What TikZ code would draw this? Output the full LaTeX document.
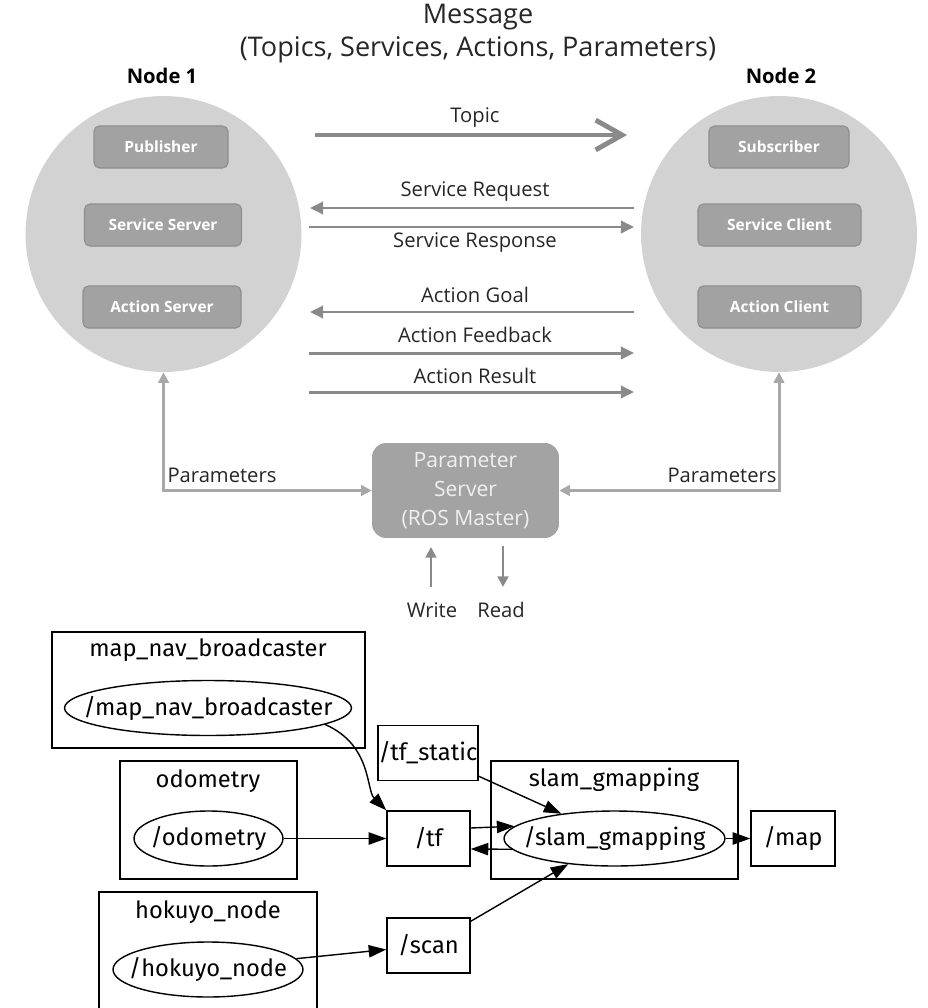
\documentclass[tikz,border=0pt]{standalone}
\usepackage{fontspec}
\setmainfont{Open Sans}
\newfontfamily\graphfont{Fira Sans}
\usepackage{xcolor}
\usepackage{tikz}
\usetikzlibrary{shapes.geometric, arrows.meta, positioning}
\definecolor{ballgray}{HTML}{D2D2D2}
\definecolor{partgray}{HTML}{A2A2A2}
\definecolor{partedge}{HTML}{8E8E8E}
\definecolor{linegray}{HTML}{8A8A8A}
\definecolor{paramgray}{HTML}{A8A8A8}
\definecolor{servergray}{HTML}{A3A3A3}
\newcommand{\tname}[1]{\makebox[0pt]{#1}}
\tikzstyle{ball} = [circle, fill=ballgray, minimum size=5.52cm, inner sep=0pt]
\tikzstyle{part} = [rectangle, rounded corners=3pt, fill=partgray, draw=partedge, line width=0.6pt, text=white, font=\bfseries\fontsize{8.8}{10}\selectfont, minimum height=0.84cm, inner sep=0pt]
\tikzstyle{nodename} = [font=\bfseries\fontsize{11.5}{13}\selectfont]
\tikzstyle{headline} = [font=\fontsize{15.4}{18}\selectfont, text=black!85]
\tikzstyle{msglabel} = [font=\fontsize{11.5}{13}\selectfont, text=black!85]
\tikzstyle{msg} = [draw=linegray, line width=1.7pt, -{Triangle[length=7.5pt, width=7pt]}]
\tikzstyle{topicarrow} = [draw=linegray, line width=2.8pt, -{Straight Barb[length=15pt, width=17pt]}]
\tikzstyle{param} = [draw=paramgray, line width=1.7pt, {Triangle[length=6pt, width=6pt]}-{Triangle[length=6pt, width=6pt]}]
\tikzstyle{rw} = [draw=linegray, line width=1.7pt, -{Triangle[length=6pt, width=6pt]}]
\tikzstyle{server} = [rectangle, rounded corners=8pt, fill=servergray, text=white!94!black, align=center, minimum width=3.74cm, minimum height=1.9cm, font=\fontsize{12}{16.5}\selectfont]
\tikzstyle{group} = [rectangle, draw, line width=0.8pt, inner sep=0pt]
\tikzstyle{grouptitle} = [font=\graphfont\fontsize{13.5}{16}\selectfont]
\tikzstyle{topic} = [rectangle, draw, line width=0.8pt, minimum height=1.1cm, inner sep=0pt, font=\graphfont\fontsize{13.5}{16}\selectfont]
\tikzstyle{proc} = [ellipse, draw, line width=0.8pt, minimum height=1.1cm, inner sep=0pt, font=\graphfont\fontsize{13.5}{16}\selectfont]
\tikzstyle{edge} = [-{Triangle[length=10pt, width=7pt]}, line width=0.8pt]

\begin{document}
\begin{tikzpicture}[x=0.02cm, y=-0.02cm]
    \useasboundingbox (0,0) rectangle (927,1008);
    % message layer
    \node[headline] (msgtitle) at (478,17) {Message};
    \node[headline] (msgkinds) at (478,50) {(Topics, Services, Actions, Parameters)};
    \node[nodename] (n1name) at (162,76) {Node 1};
    \node[nodename] (n2name) at (781,76) {Node 2};
    \node[ball] (n1) at (163.5,234) {};
    \node[ball] (n2) at (779,234) {};
    \node[part, minimum width=2.68cm] (pub) at (161,147) {Publisher};
    \node[part, minimum width=3.14cm] (srvs) at (163,225) {Service Server};
    \node[part, minimum width=3.16cm] (acts) at (162,307) {Action Server};
    \node[part, minimum width=2.8cm] (sub) at (779,147) {Subscriber};
    \node[part, minimum width=3.26cm] (srvc) at (779.5,225) {Service Client};
    \node[part, minimum width=3.26cm] (actc) at (779.5,307) {Action Client};

    \coordinate (topicL) at (315,135);   \coordinate (topicR) at (627,135);
    \coordinate (reqL) at (310,208);     \coordinate (reqR) at (634,208);
    \coordinate (resL) at (309,227);     \coordinate (resR) at (634,227);
    \coordinate (goalL) at (310,312);    \coordinate (goalR) at (634,312);
    \coordinate (fbL) at (309,353);      \coordinate (fbR) at (634,353);
    \coordinate (resultL) at (309,392);  \coordinate (resultR) at (634,392);
    \draw[topicarrow] (topicL) -- (topicR);
    \draw[msg] (reqR) -- (reqL);
    \draw[msg] (resL) -- (resR);
    \draw[msg] (goalR) -- (goalL);
    \draw[msg] (fbL) -- (fbR);
    \draw[msg] (resultL) -- (resultR);
    \node[msglabel] at (475,118) {Topic};
    \node[msglabel] at (475,192) {Service Request};
    \node[msglabel] at (475,243) {Service Response};
    \node[msglabel] at (475,295) {Action Goal};
    \node[msglabel] at (475,335) {Action Feedback};
    \node[msglabel] at (475,376) {Action Result};

    \node[server] (server) at (465.5,490.5) {Parameter\\Server\\(ROS Master)};
    \draw[param] (n1.south) |- (server.west);
    \draw[param] (n2.south) |- (server.east);
    \node[msglabel] (p1) at (222,475) {Parameters};
    \node[msglabel] (p2) at (722,475) {Parameters};
    \coordinate (wtail) at (431,587);  \coordinate (whead) at (431,547);
    \coordinate (rtail) at (503,546);  \coordinate (rhead) at (503,587);
    \draw[rw] (wtail) -- (whead);
    \draw[rw] (rtail) -- (rhead);
    \node[msglabel] (write) at (432,610) {Write};
    \node[msglabel] (read) at (501,610) {Read};

    % rqt graph
    \node[group, minimum width=6.26cm, minimum height=2.32cm] (mnbgroup) at (208.5,690) {};
    \node[group, minimum width=3.54cm, minimum height=2.36cm] (odogroup) at (208.5,820) {};
    \node[group, minimum width=4.36cm, minimum height=2.56cm] (hokgroup) at (208,956) {};
    \node[group, minimum width=4.94cm, minimum height=2.36cm] (slamgroup) at (614.5,820) {};
    \node[grouptitle] at (208,650) {map\_nav\_broadcaster};
    \node[grouptitle] at (208,781) {odometry};
    \node[grouptitle] at (208,912) {hokuyo\_node};
    \node[grouptitle] at (614,780) {slam\_gmapping};
    \node[proc, minimum width=5.74cm] (mnb) at (208,708) {\tname{/map\_nav\_broadcaster}};
    \node[proc, minimum width=2.98cm] (odo) at (208.5,838.5) {\tname{/odometry}};
    \node[proc, minimum width=3.8cm] (hok) at (208,969.5) {\tname{/hokuyo\_node}};
    \node[proc, minimum width=4.42cm] (slam) at (614.5,838.5) {\tname{/slam\_gmapping}};
    \node[topic, minimum width=2cm] (tfs) at (428,753) {/tf\_static};
    \node[topic, minimum width=1.66cm] (tf) at (428.5,838.5) {/tf};
    \node[topic, minimum width=1.66cm] (scan) at (428.5,945.5) {/scan};
    \node[topic, minimum width=1.68cm] (map) at (793,838.5) {/map};

    \draw[edge] (mnb.-8) .. controls (372,745) and (366,790) .. (tf.north west);
    \draw[edge] (odo) -- (tf);
    \draw[edge] ([yshift=0.21cm]tf.east) -- (slam.173);
    \draw[edge] (slam.186) -- ([yshift=-0.21cm]tf.east);
    \draw[edge] ([yshift=0.1cm]tfs.south east) -- (slam.155);
    \draw[edge] ([yshift=-0.08cm]scan.north east) -- (slam.209);
    \draw[edge] (slam) -- (map);
    \draw[edge] (hok.7) -- ([yshift=-0.08cm]scan.west);
\end{tikzpicture}
\end{document}
